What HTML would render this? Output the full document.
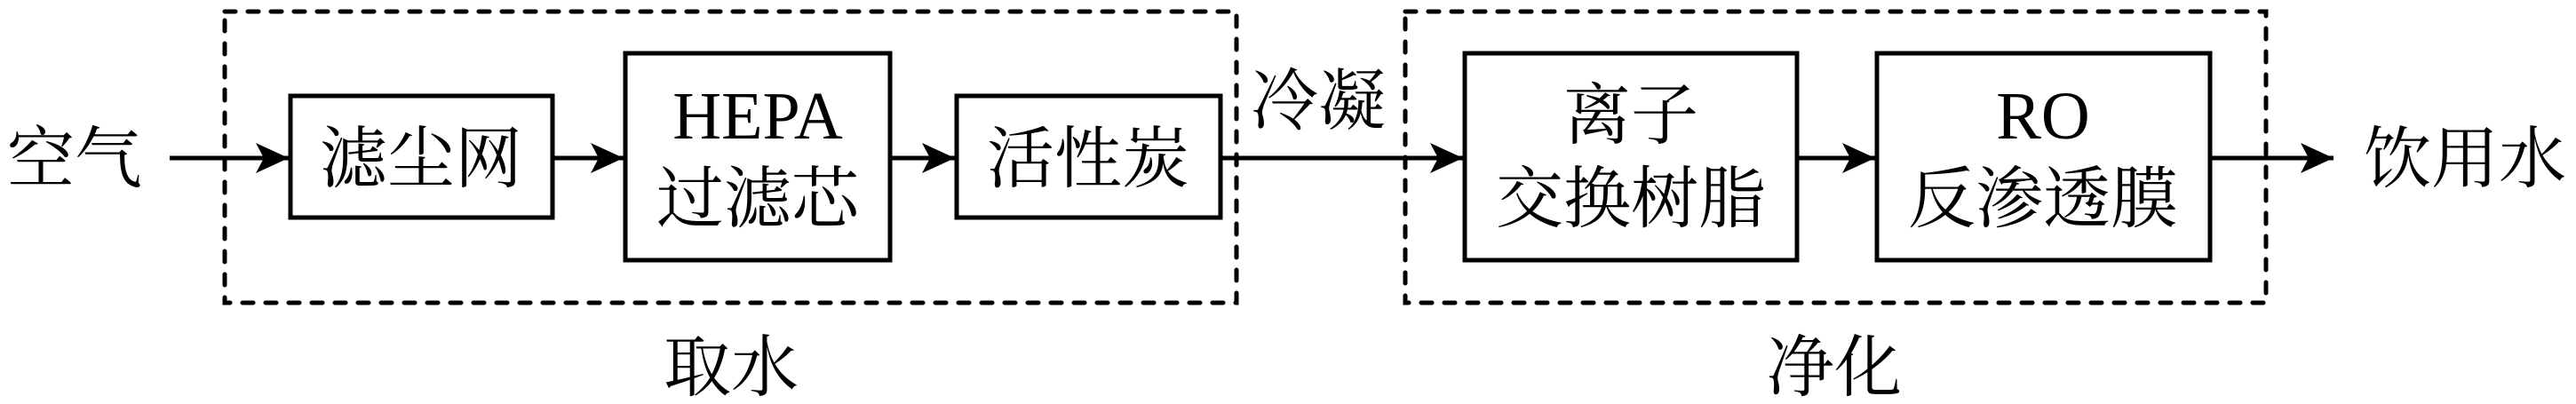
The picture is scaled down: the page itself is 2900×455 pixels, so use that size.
<!DOCTYPE html>
<html><head><meta charset="utf-8"><style>
html,body{margin:0;padding:0;background:#fff;}
svg{display:block;}
text{font-family:"Liberation Serif","Noto Serif CJK SC","Noto Serif CJK",serif;fill:#000;}
</style></head><body>
<svg width="2900" height="455" viewBox="0 0 2900 455" xmlns="http://www.w3.org/2000/svg">
<defs>
<marker id="ah" markerUnits="userSpaceOnUse" markerWidth="40" markerHeight="34" refX="37" refY="17" orient="auto">
<path d="M0,0 L37,17 L0,34 L9,17 Z" fill="#000"/>
</marker>
</defs>
<g fill="none" stroke="#000" stroke-width="5" stroke-linecap="round" stroke-dasharray="12 14">
<rect x="253" y="13" width="1139" height="328"/>
<rect x="1582" y="13" width="969" height="328"/>
</g>
<g fill="none" stroke="#000" stroke-width="5">
<rect x="327" y="108" width="295" height="137"/>
<rect x="704" y="60" width="298" height="233"/>
<rect x="1077" y="108" width="297" height="137"/>
<rect x="1649" y="60" width="374" height="233"/>
<rect x="2113" y="60" width="375" height="233"/>
</g>
<g stroke="#000" stroke-width="5" marker-end="url(#ah)">
<line x1="191" y1="178" x2="325" y2="178"/>
<line x1="622" y1="178" x2="702" y2="178"/>
<line x1="1002" y1="178" x2="1075" y2="178"/>
<line x1="1374" y1="178" x2="1647" y2="178"/>
<line x1="2023" y1="178" x2="2111" y2="178"/>
<line x1="2488" y1="178" x2="2627" y2="178"/>
</g>
<g font-size="76" text-anchor="middle">
<text x="84" y="205">空气</text>
<text x="474" y="205">滤尘网</text>
<text x="853" y="156">HEPA</text>
<text x="853" y="250">过滤芯</text>
<text x="1225" y="205">活性炭</text>
<text x="1484" y="140">冷凝</text>
<text x="1836" y="156">离子</text>
<text x="1836" y="250">交换树脂</text>
<text x="2300" y="156">RO</text>
<text x="2300" y="250">反渗透膜</text>
<text x="2775" y="205">饮用水</text>
<text x="823" y="440">取水</text>
<text x="2065" y="440">净化</text>
</g>
</svg>
</body></html>
